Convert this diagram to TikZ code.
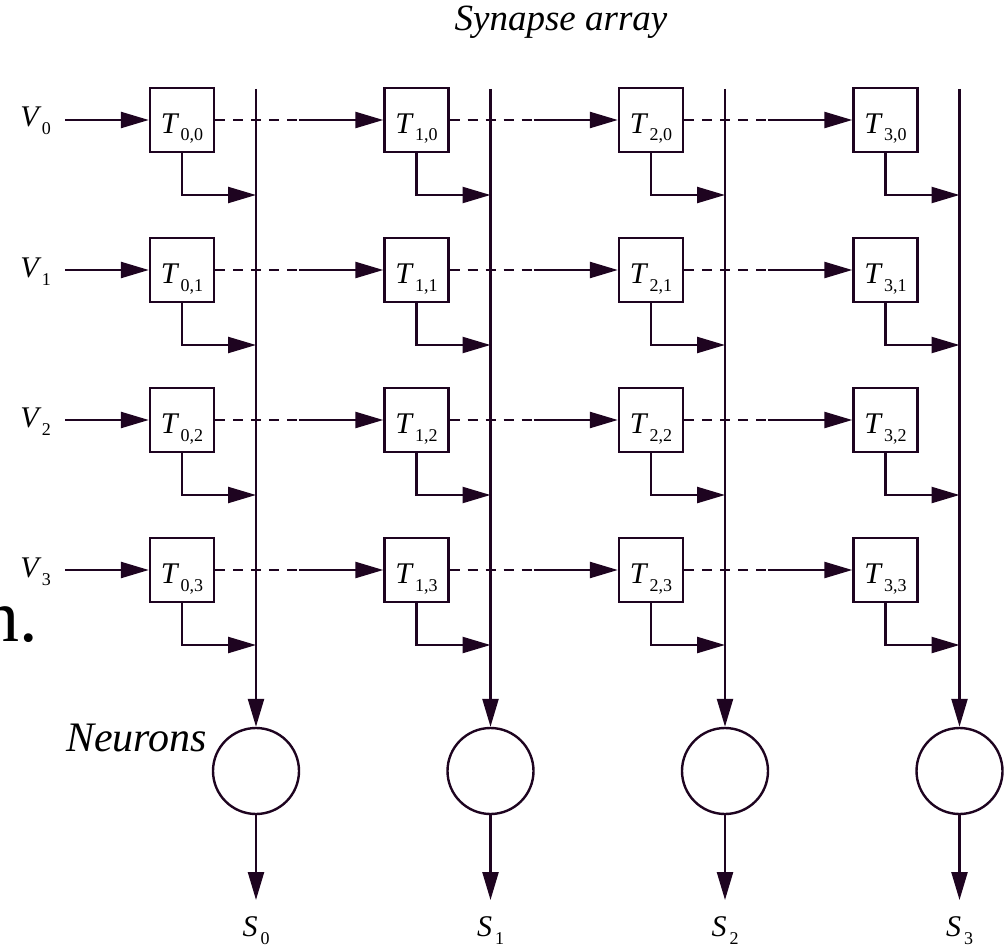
\documentclass[tikz,border=0pt]{standalone}
\usepackage{fontspec}
\setmainfont{Liberation Serif}
\usetikzlibrary{arrows.meta, positioning, calc}

\definecolor{wirecol}{RGB}{30,4,32}

% italic letter with an upright, lowered index
\newcommand{\idx}[2]{#1\kern3pt\raisebox{-8pt}{\fontsize{18}{18}\selectfont\upshape #2}}

\tikzset{
	wire/.style={draw=wirecol, line width=2.4pt},
	tip/.style={-{Triangle[length=28pt,width=16pt]}},
	weight/.style={wire, fill=white, minimum size=64pt, inner sep=0pt,
		text height=26pt, text depth=0pt, font=\fontsize{30}{30}\selectfont\itshape},
	neuron/.style={wire, circle, minimum size=86pt, inner sep=0pt},
	lbl/.style={inner sep=0pt, font=\fontsize{30}{30}\selectfont\itshape},
}

\begin{document}
\begin{tikzpicture}[x=1pt, y=-1pt]
	\useasboundingbox (0,0) rectangle (1006,947);

	\node[inner sep=0pt, anchor=base east, font=\fontsize{74}{74}\selectfont] (dot) at (38,641) {n.};
	\node[lbl, anchor=base, font=\fontsize{37}{37}\selectfont\itshape] (title) at (561,31) {Synapse array};
	\node[lbl, anchor=base east, font=\fontsize{42}{42}\selectfont\itshape] (nlbl) at (207,751) {Neurons};

	% weight cells T_{i,j}
	\foreach \i in {0,...,3}
		\foreach \j in {0,...,3}
			\node[weight] (T-\i-\j) at ({182+234.5*\i},{120+150*\j}) {\idx{T}{\i,\j}};

	% input lines V_j
	\foreach \j in {0,...,3} {
		\node[lbl, anchor=base east] (V-\j) at (51,{127+150*\j}) {\idx{V}{\j}};
		\coordinate (in-\j) at (65,{120+150*\j});
		\draw[wire, tip] (in-\j) -- (T-0-\j.west);
	}

	% pass the inputs on along each row
	\foreach \i [evaluate=\i as \k using int(\i+1)] in {0,1,2}
		\foreach \j in {0,...,3} {
			\coordinate (d-\i-\j) at ($(T-\i-\j.east)+(84,0)$);
			\draw[wire, dash pattern=on 10pt off 8pt] (T-\i-\j.east) -- (d-\i-\j);
			\draw[wire, tip] (d-\i-\j) -- (T-\k-\j.west);
		}

	% column wires, neurons and outputs S_i
	\foreach \i in {0,...,3} {
		\coordinate (top-\i) at ({256+234.5*\i},89);
		\node[neuron] (N-\i) at ({256+234.5*\i},771) {};
		\draw[wire, tip] (top-\i) -- (N-\i.north);
		\coordinate (out-\i) at ({256+234.5*\i},900);
		\draw[wire, tip] (N-\i.south) -- (out-\i);
		\node[lbl, anchor=base] (S-\i) at ({256+234.5*\i},936) {\idx{S}{\i}};
		\foreach \j in {0,...,3} {
			\coordinate (h-\i-\j) at ({256+234.5*\i},{195+150*\j});
			\draw[wire, tip] (T-\i-\j.south) |- (h-\i-\j);
		}
	}
\end{tikzpicture}
\end{document}
